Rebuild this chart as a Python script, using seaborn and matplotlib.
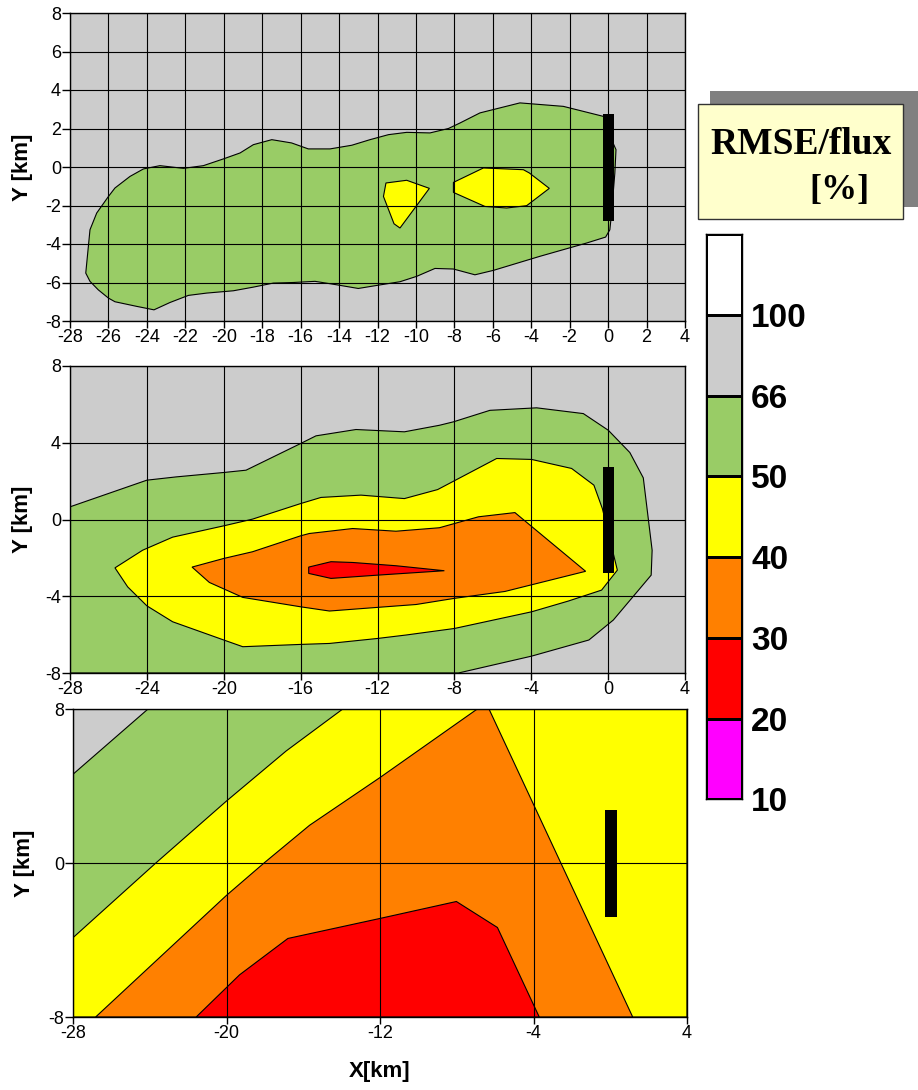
import numpy as np
import matplotlib
matplotlib.use("Agg")
import matplotlib.pyplot as plt
from matplotlib.colors import ListedColormap
from matplotlib.patches import Rectangle
import seaborn as sns

# ---------------- data ----------------
# level colours
GRAY, GREEN, YELLOW, ORANGE, RED, MAGENTA, WHITE = (
    "#CCCCCC", "#99CC66", "#FFFF00", "#FF8000", "#FF0000", "#FF00FF", "#FFFFFF")

# colour scale (bottom -> top)
cb_colors = [MAGENTA, RED, ORANGE, YELLOW, GREEN, GRAY, WHITE]
cb_labels = ["100", "66", "50", "40", "30", "20", "10"]   # boundaries top -> bottom

# tower / source bar (x centre, width, y bottom, y top)
bar_x, bar_w, bar_y0, bar_y1 = 0.03, 0.6, -2.8, 2.75

# panel 1 contours
p1_green_x = [-27.18, -26.96, -26.61, -26.0, -25.66, -24.88, -24.18, -23.32, -22.10, -21.06,
              -20.02, -19.15, -18.46, -17.50, -16.47, -15.60, -14.47, -13.34, -12.39, -11.43,
              -10.48, -9.27, -8.31, -7.70, -6.67, -4.59, -2.33, -0.25, 0.18, 0.41, 0.35, 0.18,
              0.09, -0.13, -1.12, -3.55, -5.97, -6.93, -8.05, -9.01, -9.96, -10.83, -11.96,
              -13.0, -14.12, -15.25, -16.38, -17.42, -18.46, -19.50, -20.89, -21.84, -22.80,
              -23.63, -24.53, -25.66, -26.0, -26.53, -26.96]
p1_green_y = [-5.51, -3.26, -2.39, -1.53, -1.09, -0.49, -0.10, 0.07, -0.07, 0.07,
              0.42, 0.73, 1.16, 1.42, 1.25, 0.94, 0.94, 1.13, 1.42, 1.68,
              1.80, 1.77, 2.00, 2.29, 2.81, 3.33, 3.15, 2.63, 1.42, 0.90, -0.31, -2.39,
              -3.26, -3.64, -3.95, -4.64, -5.37, -5.60, -5.30, -5.27, -5.68, -5.96, -6.14,
              -6.31, -6.12, -5.94, -6.0, -6.03, -6.24, -6.43, -6.55, -6.67, -7.04,
              -7.42, -7.24, -7.0, -6.81, -6.38, -5.94]
p1_yellow_a_x = [-11.56, -10.48, -9.30, -10.83, -11.14, -11.69]
p1_yellow_a_y = [-0.83, -0.69, -1.11, -3.17, -2.95, -1.53]
p1_yellow_b_x = [-8.05, -6.49, -4.41, -4.10, -3.06, -4.24, -5.28, -6.41, -8.05]
p1_yellow_b_y = [-0.80, -0.05, -0.14, -0.31, -1.11, -2.01, -2.13, -2.05, -1.32]

# panel 2 contours
p2_green_x = [-28.0, -24.0, -22.48, -20.0, -18.84, -16.0, -15.2, -13.12, -10.6, -8.78, -8.05,
              -6.15, -3.72, -1.29, 0.01, 1.13, 1.83, 2.29, 2.24, 0.27, -1.0, -3.98, -7.79, -28.0]
p2_green_y = [0.66, 2.05, 2.22, 2.45, 2.57, 3.96, 4.36, 4.69, 4.57, 4.91, 5.09,
              5.69, 5.82, 5.52, 4.65, 3.49, 2.17, -1.60, -2.90, -5.24, -6.28, -7.12, -8.0, -8.0]
p2_yellow_x = [-25.66, -25.0, -24.0, -22.66, -20.0, -19.01, -16.0, -14.5, -12.0, -10.51, -8.0,
               -3.98, -2.07, -0.34, 0.48, -0.30, -0.74, -1.90, -3.98, -5.80, -8.87, -10.6,
               -12.86, -14.94, -16.0, -18.5, -20.0, -22.66, -24.22]
p2_yellow_y = [-2.52, -3.51, -4.50, -5.33, -6.28, -6.63, -6.51, -6.46, -6.20, -6.02, -5.68,
               -4.81, -4.25, -3.68, -2.64, 0.57, 1.79, 2.66, 3.13, 3.18, 1.56, 1.09,
               1.27, 1.15, 0.83, 0.02, -0.33, -0.92, -1.60]
p2_orange_x = [-21.65, -20.75, -19.01, -16.0, -14.5, -12.0, -9.99, -8.0, -5.37, -1.17, -4.85,
               -6.75, -8.0, -8.78, -11.04, -13.29, -15.55, -16.0, -18.5, -20.0]
p2_orange_y = [-2.48, -3.28, -4.06, -4.55, -4.77, -4.58, -4.43, -4.11, -3.75, -2.70, 0.36,
               0.14, -0.21, -0.43, -0.61, -0.47, -0.73, -0.85, -1.68, -2.03]
p2_red_x = [-15.58, -14.42, -13.29, -11.04, -8.52, -12.0, -14.42, -15.58]
p2_red_y = [-2.48, -2.20, -2.24, -2.41, -2.67, -2.90, -3.07, -2.81]

# panel 3 contours
p3_green_x = [-28.0, -24.09, 4.0, 4.0, -28.0]
p3_green_y = [4.61, 8.0, 8.0, -8.0, -8.0]
p3_yellow_x = [-28.0, -23.66, -20.0, -16.89, -13.94, 4.0, 4.0, -28.0]
p3_yellow_y = [-3.88, 0.02, 3.22, 5.82, 8.0, 8.0, -8.0, -8.0]
p3_orange_x = [-26.82, -20.0, -18.02, -15.67, -12.0, -6.93, -6.32, 1.17]
p3_orange_y = [-8.0, -1.68, 0.02, 1.96, 4.44, 8.0, 8.0, -8.0]
p3_red_x = [-21.58, -19.32, -16.80, -12.0, -8.02, -5.88, -3.70]
p3_red_y = [-8.0, -5.81, -3.92, -2.88, -2.0, -3.35, -8.0]

p1_xticks = list(range(-28, 5, 2)); p1_yticks = list(range(-8, 9, 2))
p2_xticks = list(range(-28, 5, 4)); p2_yticks = list(range(-8, 9, 4))
p3_xticks = [-28, -20, -12, -4, 4]; p3_yticks = [-8, 0, 8]

panels = [
    dict(bg=GRAY, polys=[(p1_green_x, p1_green_y, GREEN), (p1_yellow_a_x, p1_yellow_a_y, YELLOW),
                         (p1_yellow_b_x, p1_yellow_b_y, YELLOW)],
         xt=p1_xticks, yt=p1_yticks, rect=[70, 13, 685, 321], ylx=-0.0597),
    dict(bg=GRAY, polys=[(p2_green_x, p2_green_y, GREEN), (p2_yellow_x, p2_yellow_y, YELLOW),
                         (p2_orange_x, p2_orange_y, ORANGE), (p2_red_x, p2_red_y, RED)],
         xt=p2_xticks, yt=p2_yticks, rect=[70, 366, 685, 673], ylx=-0.0597),
    dict(bg=GRAY, polys=[(p3_green_x, p3_green_y, GREEN), (p3_yellow_x, p3_yellow_y, YELLOW),
                         (p3_orange_x, p3_orange_y, ORANGE), (p3_red_x, p3_red_y, RED)],
         xt=p3_xticks, yt=p3_yticks, rect=[73, 709, 687, 1017], ylx=-0.0619),
]

# ---------------- style ----------------
sns.set_theme(style="white")
plt.rcParams["font.family"] = ["Liberation Sans", "DejaVu Sans"]
plt.rcParams["axes.unicode_minus"] = False

W, H = 918, 1090
fig = plt.figure(figsize=(W / 100, H / 100), dpi=100)


def frac(l, t, r, b):
    return [l / W, (H - b) / H, (r - l) / W, (b - t) / H]


for i, p in enumerate(panels):
    ax = fig.add_axes(frac(*p["rect"]))
    ax.set_facecolor(p["bg"])
    for xs, ys, c in p["polys"]:
        ax.fill(xs, ys, facecolor=c, edgecolor="black", linewidth=0.8, zorder=1)
    ax.bar([bar_x], [bar_y1 - bar_y0], bottom=[bar_y0], width=bar_w, color="black",
           edgecolor="black", linewidth=0, zorder=4)
    ax.set_xlim(-28, 4)
    ax.set_ylim(-8, 8)
    ax.set_xticks(p["xt"])
    ax.set_yticks(p["yt"])
    ax.grid(True, color="black", linewidth=0.8)
    ax.set_axisbelow(False)
    for s in ax.spines.values():
        s.set_visible(True)
        s.set_color("black")
        s.set_linewidth(1.0)
        s.set_zorder(5)
    ax.tick_params(axis="both", which="major", labelsize=13, colors="black",
                   direction="out", width=1)
    ax.tick_params(axis="y", length=6, pad=0.5, left=True)
    ax.tick_params(axis="x", length=5, pad=0.5, bottom=True)
    ax.set_ylabel("Y [km]", fontsize=16, fontweight="bold", color="black")
    ax.yaxis.set_label_coords(p["ylx"], 0.5)
    if i == 2:
        ax.set_xlabel("X[km]", fontsize=16, fontweight="bold", color="black")
        ax.xaxis.set_label_coords(0.5, -0.142)

# ---------------- colour scale ----------------
cax = fig.add_axes(frac(706, 234, 742, 799.3))
matrix = np.arange(len(cb_colors))[::-1].reshape(-1, 1)
sns.heatmap(matrix, ax=cax, cmap=ListedColormap(cb_colors), vmin=-0.5,
            vmax=len(cb_colors) - 0.5, cbar=False, linewidths=1, linecolor="black",
            xticklabels=False, yticklabels=False)
cax.set_yticks(np.arange(1, len(cb_labels) + 1))
cax.set_yticklabels(cb_labels, fontsize=24, fontweight="bold", color="black")
cax.yaxis.tick_right()
cax.tick_params(axis="y", length=0, pad=6.5, labelrotation=0)
for s in cax.spines.values():
    s.set_visible(True)
    s.set_color("black")
    s.set_linewidth(1.0)

# ---------------- title box ----------------
fig.add_artist(Rectangle((710 / W, (H - 207) / H), (W - 710) / W, (207 - 91) / H,
                         transform=fig.transFigure, facecolor="#808080", edgecolor="none"))
fig.add_artist(Rectangle((698.3 / W, (H - 219.3) / H), (903.3 - 698.3) / W, (219.3 - 104) / H,
                         transform=fig.transFigure, facecolor="#FFFFCC", edgecolor="#333333",
                         linewidth=1))
fig.text(801 / W, (H - 154) / H, "RMSE/flux", ha="center", va="baseline",
         family=["Liberation Serif", "DejaVu Serif"], fontweight="bold", fontsize=27,
         color="black")
fig.text(839 / W, (H - 199) / H, "[%]", ha="center", va="baseline",
         family=["Liberation Serif", "DejaVu Serif"], fontweight="bold", fontsize=26,
         color="black")

fig.savefig("out.png", dpi=100)
